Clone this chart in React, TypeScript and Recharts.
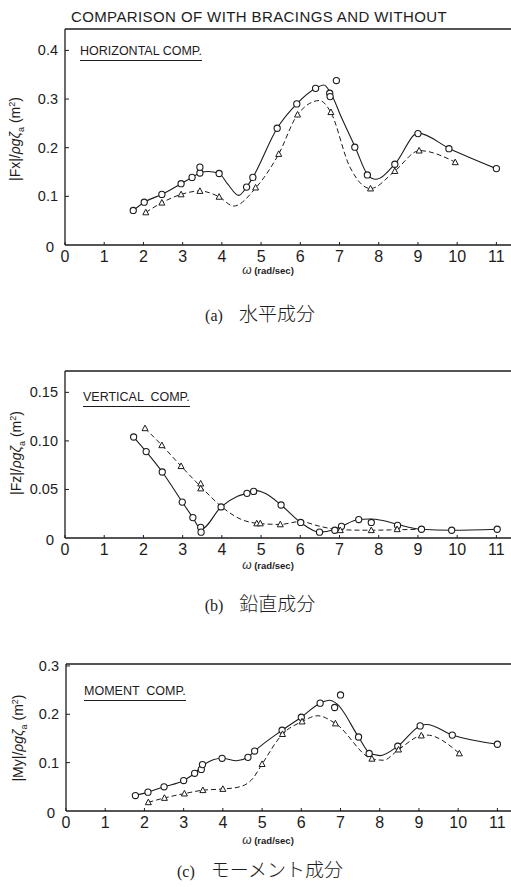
import React from 'react';
import { ComposedChart, Line, Scatter, XAxis, YAxis, ReferenceLine } from 'recharts';

const INK = '#1c1c1c';
const SANS = '"Liberation Sans", Arial, sans-serif';

type Pt = { w: number; v: number };
const pts = (rows: number[][]): Pt[] => rows.map(([w, v]) => ({ w, v }));

const OMEGA_TICKS = [0, 1, 2, 3, 4, 5, 6, 7, 8, 9, 10, 11];

// (a) horizontal force |Fx|
const fxCircles = pts([
  [1.74, 0.071], [2.02, 0.088], [2.47, 0.104], [2.96, 0.126], [3.24, 0.139], [3.44, 0.148],
  [3.44, 0.16], [3.93, 0.147], [4.63, 0.119], [4.79, 0.139], [5.41, 0.24], [5.91, 0.29],
  [6.39, 0.322], [6.75, 0.312], [6.76, 0.305], [6.92, 0.338], [7.39, 0.201], [7.71, 0.144],
  [8.41, 0.166], [9.0, 0.229], [9.79, 0.198], [11.0, 0.157],
]);
const fxSolid = pts([
  [1.74, 0.071], [2.02, 0.088], [2.47, 0.104], [2.96, 0.126], [3.24, 0.139], [3.44, 0.148],
  [3.65, 0.151], [3.93, 0.147], [4.15, 0.125], [4.43, 0.102], [4.63, 0.119], [4.79, 0.139],
  [5.41, 0.24], [5.91, 0.29], [6.39, 0.322], [6.6, 0.329], [6.77, 0.313], [7.05, 0.262],
  [7.4, 0.201], [7.72, 0.144], [7.92, 0.135], [8.42, 0.167], [9.0, 0.23], [9.81, 0.198],
  [11.0, 0.157],
]);
const fxTriangles = pts([
  [2.06, 0.067], [2.47, 0.087], [2.96, 0.104], [3.44, 0.111], [3.93, 0.099], [4.86, 0.118],
  [5.45, 0.187], [5.93, 0.268], [6.78, 0.273], [7.79, 0.116], [8.41, 0.152], [9.03, 0.194],
  [9.95, 0.17],
]);
const fxDashed = pts([
  [2.06, 0.067], [2.47, 0.087], [2.96, 0.104], [3.44, 0.111], [3.93, 0.099], [4.3, 0.08],
  [4.87, 0.118], [5.45, 0.187], [5.93, 0.268], [6.49, 0.297], [6.77, 0.274], [7.26, 0.161],
  [7.79, 0.116], [8.41, 0.152], [9.04, 0.194], [9.96, 0.17],
]);

// (b) vertical force |Fz|
const fzCircles = pts([
  [1.75, 0.104], [2.07, 0.089], [2.48, 0.068], [2.99, 0.037], [3.26, 0.021], [3.46, 0.011],
  [3.47, 0.006], [3.98, 0.032], [4.64, 0.046], [4.81, 0.048], [5.51, 0.034], [6.01, 0.016],
  [6.49, 0.006], [6.88, 0.008], [7.05, 0.012], [7.49, 0.019], [7.81, 0.016], [8.48, 0.013],
  [9.09, 0.009], [9.86, 0.008], [11.02, 0.009],
]);
const fzSolid = pts([
  [1.75, 0.104], [2.07, 0.089], [2.48, 0.068], [2.99, 0.037], [3.26, 0.021], [3.47, 0.009],
  [3.98, 0.032], [4.4, 0.043], [4.64, 0.046], [4.85, 0.049], [5.1, 0.046], [5.51, 0.034],
  [6.01, 0.016], [6.49, 0.006], [6.88, 0.009], [7.05, 0.012], [7.49, 0.019], [7.75, 0.0195],
  [8.1, 0.018], [8.48, 0.014], [9.09, 0.009], [9.86, 0.008], [11.02, 0.009],
]);
const fzTriangles = pts([
  [2.04, 0.113], [2.47, 0.0955], [2.96, 0.074], [3.46, 0.056], [3.46, 0.051], [4.89, 0.015],
  [4.98, 0.015], [5.49, 0.014], [7.02, 0.008], [7.81, 0.008], [8.47, 0.009],
]);
const fzDashed = pts([
  [2.04, 0.113], [2.47, 0.0955], [2.96, 0.074], [3.46, 0.053], [4.0, 0.032], [4.5, 0.019],
  [4.93, 0.015], [5.49, 0.014], [6.0, 0.017], [6.5, 0.012], [7.02, 0.0085], [7.81, 0.008],
  [8.47, 0.0085], [9.09, 0.009],
]);

// (c) moment |My|
const myCircles = pts([
  [1.77, 0.032], [2.09, 0.039], [2.5, 0.05], [3.0, 0.063], [3.28, 0.078], [3.45, 0.086],
  [3.48, 0.096], [3.98, 0.109], [4.64, 0.111], [4.81, 0.124], [5.51, 0.167], [6.0, 0.194],
  [6.48, 0.223], [6.85, 0.214], [7.0, 0.24], [7.46, 0.153], [7.73, 0.119], [8.46, 0.134],
  [9.03, 0.176], [9.85, 0.157], [11.0, 0.138],
]);
const mySolid = pts([
  [1.77, 0.032], [2.09, 0.039], [2.5, 0.05], [3.0, 0.063], [3.28, 0.078], [3.47, 0.093],
  [3.98, 0.109], [4.35, 0.104], [4.64, 0.111], [4.81, 0.124], [5.51, 0.167], [6.0, 0.194],
  [6.48, 0.223], [6.72, 0.229], [6.9, 0.222], [7.46, 0.153], [7.73, 0.121], [8.0, 0.1145],
  [8.46, 0.134], [9.03, 0.176], [9.2, 0.179], [9.85, 0.157], [11.0, 0.138],
]);
const myTriangles = pts([
  [2.1, 0.018], [2.51, 0.027], [3.02, 0.036], [3.49, 0.043], [4.0, 0.0455], [5.0, 0.097],
  [5.52, 0.159], [6.02, 0.185], [6.87, 0.181], [7.8, 0.108], [8.48, 0.127], [9.06, 0.156],
  [10.03, 0.119],
]);
const myDashed = pts([
  [2.1, 0.018], [2.51, 0.027], [3.02, 0.036], [3.49, 0.043], [4.0, 0.0455], [4.43, 0.05],
  [4.77, 0.068], [5.0, 0.097], [5.52, 0.159], [6.02, 0.185], [6.42, 0.197], [6.87, 0.181],
  [7.8, 0.108], [8.09, 0.105], [8.48, 0.127], [9.06, 0.156], [9.2, 0.157], [10.03, 0.119],
]);

const Ring = (p: any) => (
  <circle cx={p.cx} cy={p.cy} r={3.1} fill="#fff" stroke={INK} strokeWidth={1.1} />
);
const Tri = (p: any) => {
  const { cx, cy } = p;
  return (
    <path
      d={`M${cx},${cy - 3.2} L${cx + 3},${cy + 2.4} L${cx - 3},${cy + 2.4} Z`}
      fill="#fff"
      stroke={INK}
      strokeWidth={1}
    />
  );
};

// ticks point into the plot, labels sit outside
const XTick = ({ x, y, payload }: any) => (
  <g>
    <line x1={x} y1={y} x2={x} y2={y - 3} stroke={INK} strokeWidth={1} />
    <text x={x} y={y + 17} textAnchor="middle" fontSize={16} fontFamily={SANS} fill={INK}>
      {payload.value}
    </text>
  </g>
);

const makeYTick = (fmt: (v: number) => string) => ({ x, y, payload }: any) => {
  const zero = payload.value === 0;
  return (
    <g>
      {!zero && <line x1={x} y1={y} x2={x + 4} y2={y} stroke={INK} strokeWidth={1} />}
      <text
        x={zero ? x - 11 : x - 7}
        y={zero ? y + 7 : y + 5}
        textAnchor="end"
        fontSize={zero ? 15 : 14.5}
        fontFamily={SANS}
        fill={INK}
      >
        {fmt(payload.value)}
      </text>
    </g>
  );
};

type PanelProps = {
  top: number;
  marginTop: number;
  plotH: number;
  left: number;
  yMax: number;
  yTicks: number[];
  fmt: (v: number) => string;
  solid: Pt[];
  dashed: Pt[];
  circles: Pt[];
  triangles: Pt[];
};

function Panel({ top, marginTop, plotH, left, yMax, yTicks, fmt, solid, dashed, circles, triangles }: PanelProps) {
  const unit = 39.2;
  return (
    <div style={{ position: 'absolute', left: 0, top }}>
      <ComposedChart
        width={left + Math.round(unit * 11.5)}
        height={marginTop + plotH + 35}
        margin={{ top: marginTop, right: 0, bottom: 0, left: 0 }}
      >
        <XAxis
          type="number"
          dataKey="w"
          domain={[0, 11.5]}
          ticks={OMEGA_TICKS}
          interval={0}
          allowDataOverflow
          height={35}
          tickSize={0}
          tickMargin={0}
          tickLine={false}
          axisLine={{ stroke: INK, strokeWidth: 1.3 }}
          tick={XTick}
        />
        <YAxis
          type="number"
          domain={[0, yMax]}
          ticks={yTicks}
          interval={0}
          allowDataOverflow
          width={left}
          tickSize={0}
          tickMargin={0}
          tickLine={false}
          axisLine={{ stroke: INK, strokeWidth: 1.3 }}
          tick={makeYTick(fmt)}
        />
        <ReferenceLine y={yMax} stroke={INK} strokeWidth={1.3} />
        <Line
          data={solid}
          dataKey="v"
          type="monotone"
          stroke={INK}
          strokeWidth={1.1}
          dot={false}
          activeDot={false}
          isAnimationActive={false}
        />
        <Line
          data={dashed}
          dataKey="v"
          type="monotone"
          stroke={INK}
          strokeWidth={1}
          strokeDasharray="5 3"
          dot={false}
          activeDot={false}
          isAnimationActive={false}
        />
        <Scatter data={circles} dataKey="v" shape={Ring} isAnimationActive={false} />
        <Scatter data={triangles} dataKey="v" shape={Tri} isAnimationActive={false} />
      </ComposedChart>
    </div>
  );
}

const abs = (x: number, y: number, extra: React.CSSProperties = {}): React.CSSProperties => ({
  position: 'absolute',
  left: x,
  top: y,
  transform: 'translate(-50%, -50%)',
  whiteSpace: 'nowrap',
  color: INK,
  lineHeight: 1,
  ...extra,
});

const YTitle = ({ x, y, name }: { x: number; y: number; name: string }) => (
  <div style={abs(x, y, { transform: 'translate(-50%, -50%) rotate(-90deg)', fontFamily: SANS, fontSize: 14 })}>
    {name}/<span style={{ fontStyle: 'italic' }}>ρgζ</span>
    <sub style={{ fontSize: 9 }}>a</sub> (m<sup style={{ fontSize: 9 }}>2</sup>)
  </div>
);

const XTitle = ({ y }: { y: number }) => (
  <div style={abs(268, y, { fontFamily: SANS, fontSize: 9.5, fontWeight: 'bold' })}>
    <span style={{ fontStyle: 'italic', fontSize: 12, fontWeight: 'normal' }}>ω</span> (rad/sec)
  </div>
);

const Tag = ({ x, y, text }: { x: number; y: number; text: string }) => (
  <div
    style={{
      position: 'absolute',
      left: x,
      top: y,
      fontFamily: SANS,
      fontSize: 12.5,
      color: INK,
      whiteSpace: 'pre',
      lineHeight: 1,
      borderBottom: `1.3px solid ${INK}`,
      paddingBottom: 2,
    }}
  >
    {text}
  </div>
);

const Caption = ({ y, tag, text }: { y: number; tag: string; text: string }) => (
  <div style={abs(260, y)}>
    <span style={{ fontFamily: '"Liberation Serif", serif', fontSize: 16 }}>{tag}</span>
    <span style={{ fontFamily: '"Noto Sans CJK JP", sans-serif', fontSize: 19, marginLeft: 16, fontWeight: 300 }}>
      {text}
    </span>
  </div>
);

export default function App() {
  return (
    <div style={{ position: 'absolute', left: 0, top: 0, width: 511, height: 887, overflow: 'hidden', background: '#fff' }}>
      <div style={abs(259, 16, { fontFamily: SANS, fontSize: 15, letterSpacing: 0.4 })}>
        COMPARISON OF WITH BRACINGS AND WITHOUT
      </div>

      <Panel
        top={0}
        marginTop={29}
        plotH={216}
        left={65}
        yMax={0.444}
        yTicks={[0, 0.1, 0.2, 0.3, 0.4]}
        fmt={(v) => (v === 0 ? '0' : v.toFixed(1))}
        solid={fxSolid}
        dashed={fxDashed}
        circles={fxCircles}
        triangles={fxTriangles}
      />
      <YTitle x={17} y={139} name="|Fx|" />
      <XTitle y={270} />
      <Tag x={80} y={45} text="HORIZONTAL COMP." />
      <Caption y={313} tag="(a)" text="水平成分" />

      <Panel
        top={340}
        marginTop={31}
        plotH={167}
        left={65}
        yMax={0.172}
        yTicks={[0, 0.05, 0.1, 0.15]}
        fmt={(v) => (v === 0 ? '0' : v.toFixed(2))}
        solid={fzSolid}
        dashed={fzDashed}
        circles={fzCircles}
        triangles={fzTriangles}
      />
      <YTitle x={18} y={453} name="|Fz|" />
      <XTitle y={565} />
      <Tag x={83} y={391} text="VERTICAL  COMP." />
      <Caption y={603} tag="(b)" text="鉛直成分" />

      <Panel
        top={630}
        marginTop={34}
        plotH={147}
        left={66}
        yMax={0.304}
        yTicks={[0, 0.1, 0.2, 0.3]}
        fmt={(v) => (v === 0 ? '0' : v.toFixed(1))}
        solid={mySolid}
        dashed={myDashed}
        circles={myCircles}
        triangles={myTriangles}
      />
      <YTitle x={20} y={738} name="|My|" />
      <XTitle y={840} />
      <Tag x={84} y={685} text="MOMENT  COMP." />
      <Caption y={869} tag="(c)" text="モーメント成分" />
    </div>
  );
}
